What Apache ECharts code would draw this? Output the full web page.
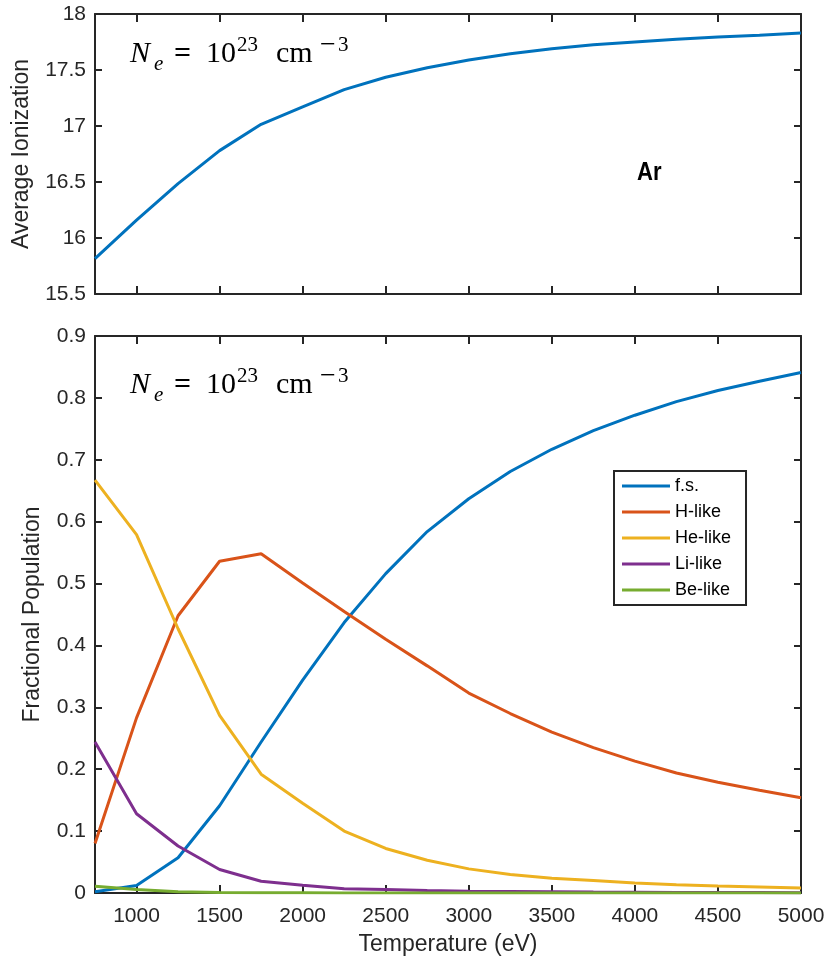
<!DOCTYPE html>
<html>
<head>
<meta charset="utf-8">
<script src="https://cdn.jsdelivr.net/npm/echarts@6/dist/echarts.min.js"></script>
<style>
  html, body { margin: 0; padding: 0; background: #fff; }
  #chart { width: 825px; height: 959px; }
</style>
</head>
<body>
<div id="chart"></div>
<script>
// Argon ionization balance at fixed electron density
const temperature = [750, 1000, 1250, 1500, 1750, 2000, 2250, 2500, 2750, 3000, 3250, 3500, 3750, 4000, 4250, 4500, 4750, 5000];
const avgIonization = [15.815, 16.16, 16.485, 16.78, 17.015, 17.17, 17.325, 17.435, 17.52, 17.59, 17.645, 17.69, 17.725, 17.75, 17.775, 17.795, 17.81, 17.83];

const fullyStripped = [0.002, 0.012, 0.057, 0.141, 0.244, 0.344, 0.437, 0.516, 0.584, 0.637, 0.681, 0.717, 0.747, 0.772, 0.794, 0.812, 0.827, 0.841];
const hLike  = [0.080, 0.283, 0.448, 0.536, 0.548, 0.501, 0.455, 0.410, 0.367, 0.323, 0.290, 0.260, 0.235, 0.213, 0.194, 0.179, 0.166, 0.154];
const heLike = [0.667, 0.579, 0.427, 0.287, 0.192, 0.145, 0.100, 0.072, 0.053, 0.039, 0.030, 0.024, 0.020, 0.016, 0.0135, 0.0113, 0.0097, 0.008];
const liLike = [0.244, 0.128, 0.076, 0.038, 0.019, 0.0125, 0.007, 0.0055, 0.004, 0.003, 0.0025, 0.002, 0.0015, 0.0012, 0.001, 0.0008, 0.0007, 0.0006];
const beLike = [0.011, 0.0055, 0.002, 0.001, 0.0005, 0.0003, 0.0002, 0.0001, 0.0001, 0.0001, 0.0001, 0.0001, 0.0001, 0.0001, 0.0001, 0.0001, 0.0001, 0.0001];

const seriesNames = ['f.s.', 'H-like', 'He-like', 'Li-like', 'Be-like'];
const seriesValues = [fullyStripped, hLike, heLike, liLike, beLike];
const seriesColors = ['#0072BD', '#D95319', '#EDB120', '#7E2F8E', '#77AC30'];

const xTickValues = [1000, 1500, 2000, 2500, 3000, 3500, 4000, 4500, 5000];
const xRange = [750, 5000];
const topYRange = [15.5, 18];
const bottomYRange = [0, 0.9];

const sans = 'Liberation Sans, Arial, Helvetica, sans-serif';
const serif = 'Liberation Serif, Times New Roman, serif';
const ink = '#262626';
const lineW = 3;

const chart = echarts.init(document.getElementById('chart'), null, { renderer: 'canvas' });

function pairs(values) {
  return temperature.map((t, i) => [t, values[i]]);
}

function xAxis(gridIndex, position, showLabels, name) {
  return {
    type: 'value', gridIndex, position,
    min: xRange[0], max: xRange[1],
    name: name || '', nameLocation: 'middle', nameGap: 40,
    nameTextStyle: { fontFamily: sans, fontSize: 23, color: ink },
    axisLine: { show: true, onZero: false, lineStyle: { color: ink, width: 2 } },
    axisTick: { show: true, inside: true, length: 8, customValues: xTickValues, lineStyle: { color: ink, width: 2 } },
    axisLabel: {
      show: showLabels, customValues: xTickValues, margin: 13, hideOverlap: false,
      fontFamily: sans, fontSize: 21, color: ink, formatter: v => String(v)
    },
    splitLine: { show: false }
  };
}

function yAxis(gridIndex, position, range, interval, showLabels, name, gap) {
  return {
    type: 'value', gridIndex, position,
    min: range[0], max: range[1], interval,
    name: name || '', nameLocation: 'middle', nameGap: gap || 50,
    nameTextStyle: { fontFamily: sans, fontSize: 23, color: ink },
    axisLine: { show: true, onZero: false, lineStyle: { color: ink, width: 2 } },
    axisTick: { show: true, inside: true, length: 7, lineStyle: { color: ink, width: 2 } },
    axisLabel: { show: showLabels, margin: 9, fontFamily: sans, fontSize: 21, color: ink },
    splitLine: { show: false }
  };
}

// Density annotation: N_e = 10^23 cm^-3, laid out piece by piece
function densityLabel(baseline) {
  const big = 'italic 30px ' + serif;
  const bigUp = '30px ' + serif;
  const small = 'italic 21px ' + serif;
  const smallUp = '21px ' + serif;
  const parts = [
    { text: 'N', x: 130, dy: 0, font: big },
    { text: 'e', x: 154, dy: 6, font: small },
    { text: '=', x: 174, dy: 0, font: 'bold 30px ' + serif },
    { text: '10', x: 206, dy: 0, font: bigUp },
    { text: '23', x: 237, dy: -13, font: smallUp },
    { text: 'cm', x: 276, dy: 0, font: bigUp },
    { text: '\u2212', x: 320, dy: -9, font: '28px ' + serif },
    { text: '3', x: 338, dy: -13, font: smallUp }
  ];
  return parts.map(p => ({
    type: 'text', z: 100,
    style: { text: p.text, x: p.x, y: baseline + p.dy, font: p.font, fill: '#000', verticalAlign: 'bottom' }
  }));
}

const series = [{
  name: 'avg', type: 'line', xAxisIndex: 0, yAxisIndex: 0,
  data: pairs(avgIonization), symbol: 'none', smooth: false,
  lineStyle: { color: '#0072BD', width: lineW }, itemStyle: { color: '#0072BD' }
}];
seriesNames.forEach((name, k) => {
  series.push({
    name, type: 'line', xAxisIndex: 2, yAxisIndex: 2,
    data: pairs(seriesValues[k]), symbol: 'none', smooth: false,
    lineStyle: { color: seriesColors[k], width: lineW }, itemStyle: { color: seriesColors[k] }
  });
});

chart.setOption({
  animation: false,
  backgroundColor: '#fff',
  grid: [
    { left: 95, right: 24, top: 14, height: 280, outerBoundsMode: 'none', containLabel: false },
    { left: 95, right: 24, top: 336, height: 557, outerBoundsMode: 'none', containLabel: false }
  ],
  xAxis: [
    xAxis(0, 'bottom', false),
    xAxis(0, 'top', false),
    xAxis(1, 'bottom', true, 'Temperature (eV)'),
    xAxis(1, 'top', false)
  ],
  yAxis: [
    yAxis(0, 'left', topYRange, 0.5, true, 'Average Ionization', 62),
    yAxis(0, 'right', topYRange, 0.5, false),
    yAxis(1, 'left', bottomYRange, 0.1, true, 'Fractional Population', 51),
    yAxis(1, 'right', bottomYRange, 0.1, false)
  ],
  legend: {
    data: seriesNames, orient: 'vertical', left: 614, top: 471,
    icon: 'rect', itemWidth: 48, itemHeight: 3, itemGap: 8, itemTextGap: 6,
    padding: [6, 15, 6, 8],
    borderColor: ink, borderWidth: 2, borderRadius: 0, backgroundColor: '#fff',
    textStyle: { fontFamily: sans, fontSize: 18, color: '#000' }
  },
  graphic: [
    { type: 'text', z: 100, x: 637, y: 160, scaleX: 0.85, style: { text: 'Ar', x: 0, y: 0, font: 'bold 26px ' + sans, fill: '#000' } }
  ].concat(densityLabel(69), densityLabel(400)),
  series
});
</script>
</body>
</html>
